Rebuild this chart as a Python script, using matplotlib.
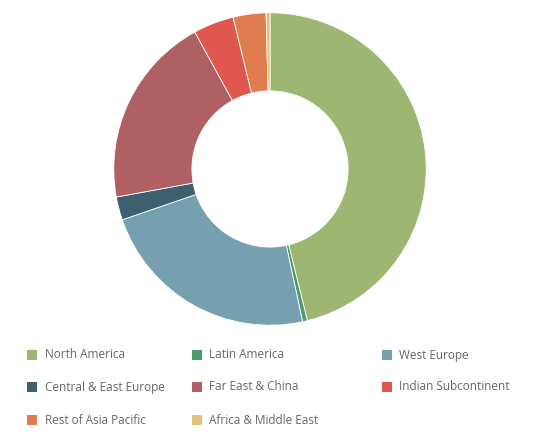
import matplotlib
matplotlib.use("Agg")
import matplotlib.pyplot as plt
from matplotlib.patches import Rectangle

regions = ["North America", "Latin America", "West Europe", "Central & East Europe",
           "Far East & China", "Indian Subcontinent", "Rest of Asia Pacific", "Africa & Middle East"]
shares = [46.2, 0.5, 23.1, 2.4, 19.9, 4.2, 3.4, 0.4]
colors = ["#9db672", "#4e9a6e", "#76a0b0", "#3e5f6e", "#b05f63", "#e0574f", "#e07c4f", "#e8c07a"]

fig = plt.figure(figsize=(5.4, 4.41), dpi=100)
ax = fig.add_axes([113/540, 1-326/441, 314/540, 314/441])
ax.pie(shares, colors=colors, startangle=90, counterclock=False,
       wedgeprops=dict(width=0.5, edgecolor="white", linewidth=0.6))
ax.set_xlim(-1.005, 1.005)
ax.set_ylim(-1.005, 1.005)
ax.set_aspect("equal")

xs_m = [32, 197, 387]
xs_t = [45, 209, 399]
ys = [355, 387, 420]
for i, (name, c) in enumerate(zip(regions, colors)):
    r, col = divmod(i, 3)
    y = 1 - ys[r]/441
    fig.patches.append(Rectangle((xs_m[col]/540 - 5/540, y - 5/441), 10/540, 10/441,
                                 transform=fig.transFigure, facecolor=c, edgecolor="none"))
    fig.text(xs_t[col]/540, y, name, va="center", ha="left", fontsize=8.5,
             color="#666666", family="Open Sans")

fig.savefig("out.png", dpi=100)
